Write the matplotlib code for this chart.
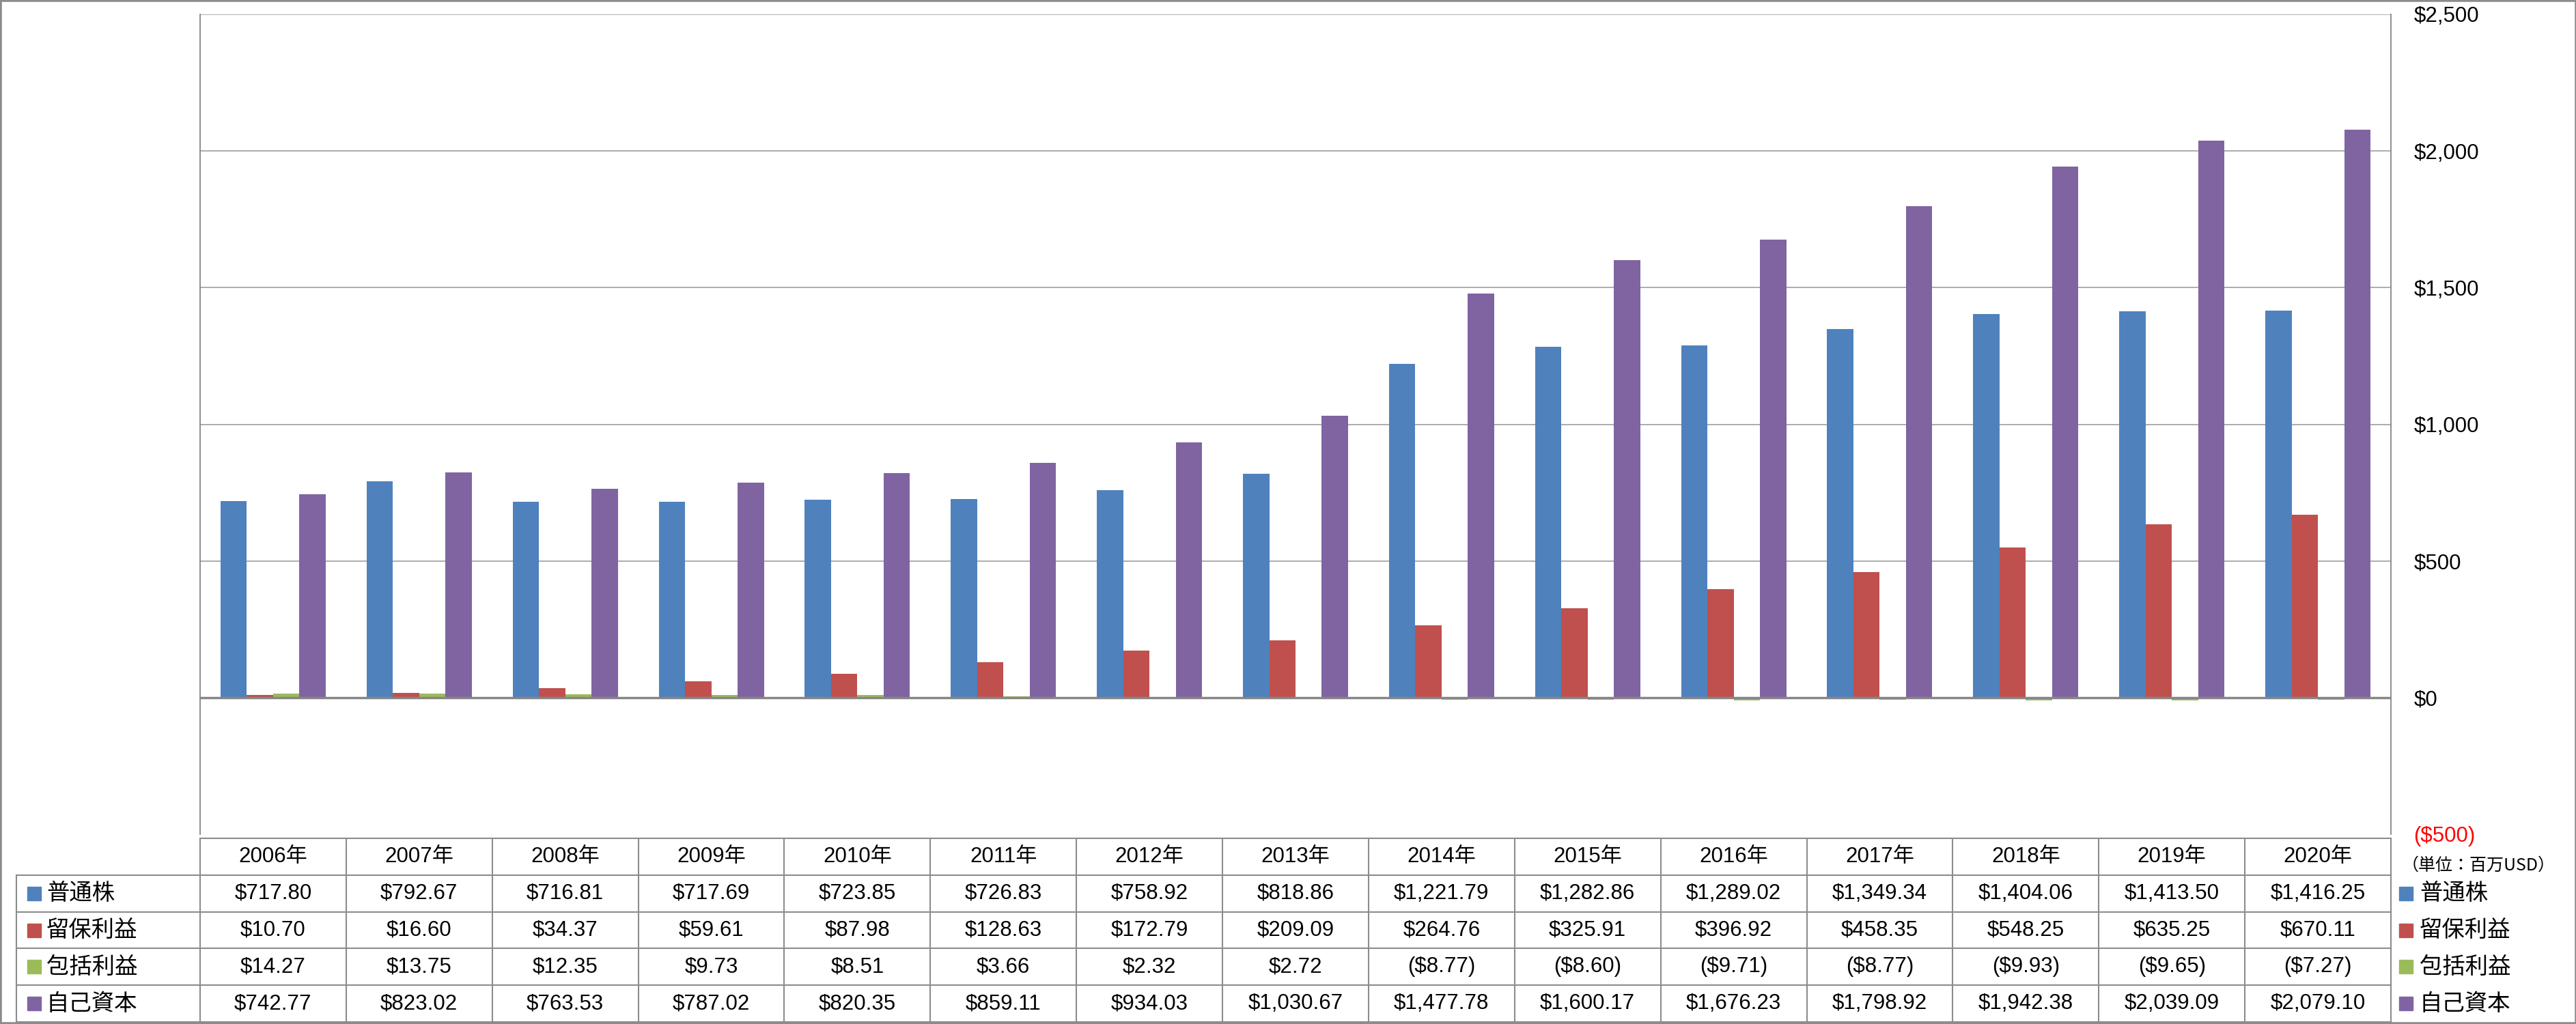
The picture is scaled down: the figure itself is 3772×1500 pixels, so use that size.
"""Equity composition chart with data table (2006-2020)"""

import numpy as np
import matplotlib
matplotlib.use('Agg')
import matplotlib.pyplot as plt
from matplotlib.patches import Rectangle

plt.rcParams['font.family'] = ['Liberation Sans', 'Noto Sans CJK JP', 'DejaVu Sans']

# --- data ---
years = ['2006年', '2007年', '2008年', '2009年', '2010年', '2011年', '2012年', '2013年',
         '2014年', '2015年', '2016年', '2017年', '2018年', '2019年', '2020年']
series_names = ['普通株', '留保利益', '包括利益', '自己資本']
common_stock = [717.80, 792.67, 716.81, 717.69, 723.85, 726.83, 758.92, 818.86,
                1221.79, 1282.86, 1289.02, 1349.34, 1404.06, 1413.50, 1416.25]
retained_earnings = [10.70, 16.60, 34.37, 59.61, 87.98, 128.63, 172.79, 209.09,
                     264.76, 325.91, 396.92, 458.35, 548.25, 635.25, 670.11]
comprehensive_income = [14.27, 13.75, 12.35, 9.73, 8.51, 3.66, 2.32, 2.72,
                        -8.77, -8.60, -9.71, -8.77, -9.93, -9.65, -7.27]
total_equity = [742.77, 823.02, 763.53, 787.02, 820.35, 859.11, 934.03, 1030.67,
                1477.78, 1600.17, 1676.23, 1798.92, 1942.38, 2039.09, 2079.10]
y_ticks = [-500, 0, 500, 1000, 1500, 2000, 2500]
unit_label = '（単位：百万USD）'

colors = ['#4F81BD', '#C0504D', '#9BBB59', '#8064A2']
all_series = [common_stock, retained_earnings, comprehensive_income, total_equity]
cjk = ['Noto Sans CJK JP', 'DejaVu Sans']


def fmt_money(v, decimals=2):
    s = f"${abs(v):,.{decimals}f}"
    return f"({s})" if v < 0 else s


# --- layout (pixels of the 3773x1500 canvas) ---
W, H = 3773, 1500
plot_l, plot_r, plot_t, plot_b = 293, 3501, 21, 1222
tab_t, tab_b, lab_l = 1228, 1497, 24

fig = plt.figure(figsize=(W / 100, H / 100), dpi=100)
ax = fig.add_axes([plot_l / W, (H - plot_b) / H, (plot_r - plot_l) / W, (plot_b - plot_t) / H])

x = np.arange(len(years))
width = 0.18
for i, (vals, c) in enumerate(zip(all_series, colors)):
    ax.bar(x + (i - 1.5) * width, vals, width=width, color=c, zorder=3)

ax.set_xlim(-0.5, len(years) - 0.5)
ax.set_ylim(-500, 2500)
ax.set_xticks([])
ax.yaxis.tick_right()
ax.set_yticks(y_ticks)
ax.set_yticklabels([fmt_money(v, 0) for v in y_ticks], fontsize=22.5)
ax.get_yticklabels()[0].set_color('red')
ax.tick_params(axis='y', length=0, pad=24)

for v in y_ticks[1:]:
    ax.axhline(v, color='#A6A6A6', lw=1.3, zorder=1)
ax.axhline(0, color='#868686', lw=2.5, zorder=4)
for side in ['top', 'bottom']:
    ax.spines[side].set_visible(False)
for side in ['left', 'right']:
    ax.spines[side].set_color('#868686')
    ax.spines[side].set_linewidth(1.3)

fig.text((plot_r + 16) / W, 1 - 1268 / H, unit_label, fontsize=18,
         ha='left', va='center', family=cjk)

# --- data table ---
tax = fig.add_axes([plot_l / W, (H - tab_b) / H, (plot_r - plot_l) / W, (tab_b - tab_t) / H])
tax.set_xlim(-0.5, len(years) - 0.5)
tax.set_ylim(5, 0)
tax.axis('off')
col_px = (plot_r - plot_l) / len(years)
xl = -0.5 - (plot_l - lab_l) / col_px
lc = '#8C8C8C'

tax.plot([-0.5, len(years) - 0.5], [0, 0], color=lc, lw=1.5, clip_on=False)
for r in range(1, 6):
    tax.plot([xl, len(years) - 0.5], [r, r], color=lc, lw=1.5, clip_on=False)
for k in range(len(years) + 1):
    tax.plot([k - 0.5, k - 0.5], [0, 5], color=lc, lw=1.5, clip_on=False)
tax.plot([xl, xl], [1, 5], color=lc, lw=1.5, clip_on=False)

for j, yr in enumerate(years):
    tax.text(j, 0.5, yr, ha='center', va='center', fontsize=22.5)
for r, (name, vals, c) in enumerate(zip(series_names, all_series, colors), start=1):
    for j, v in enumerate(vals):
        tax.text(j, r + 0.5, fmt_money(v), ha='center', va='center', fontsize=22.5)
    # left legend key
    tax.plot([xl + 26 / col_px], [r + 0.5], marker='s', ms=14, color=c, clip_on=False)
    tax.text(xl + 44 / col_px, r + 0.5, name, ha='left', va='center', fontsize=24,
             family=cjk)
    # right legend key
    tax.plot([len(years) - 0.5 + 22 / col_px], [r + 0.5], marker='s', ms=14, color=c,
             clip_on=False)
    tax.text(len(years) - 0.5 + 42 / col_px, r + 0.5, name, ha='left', va='center',
             fontsize=24, family=cjk)

fig.patches.append(Rectangle((0, 0), 1, 1, transform=fig.transFigure, fill=False,
                             ec='#8C8C8C', lw=4))

fig.savefig('out.png', dpi=100)
plt.close(fig)
